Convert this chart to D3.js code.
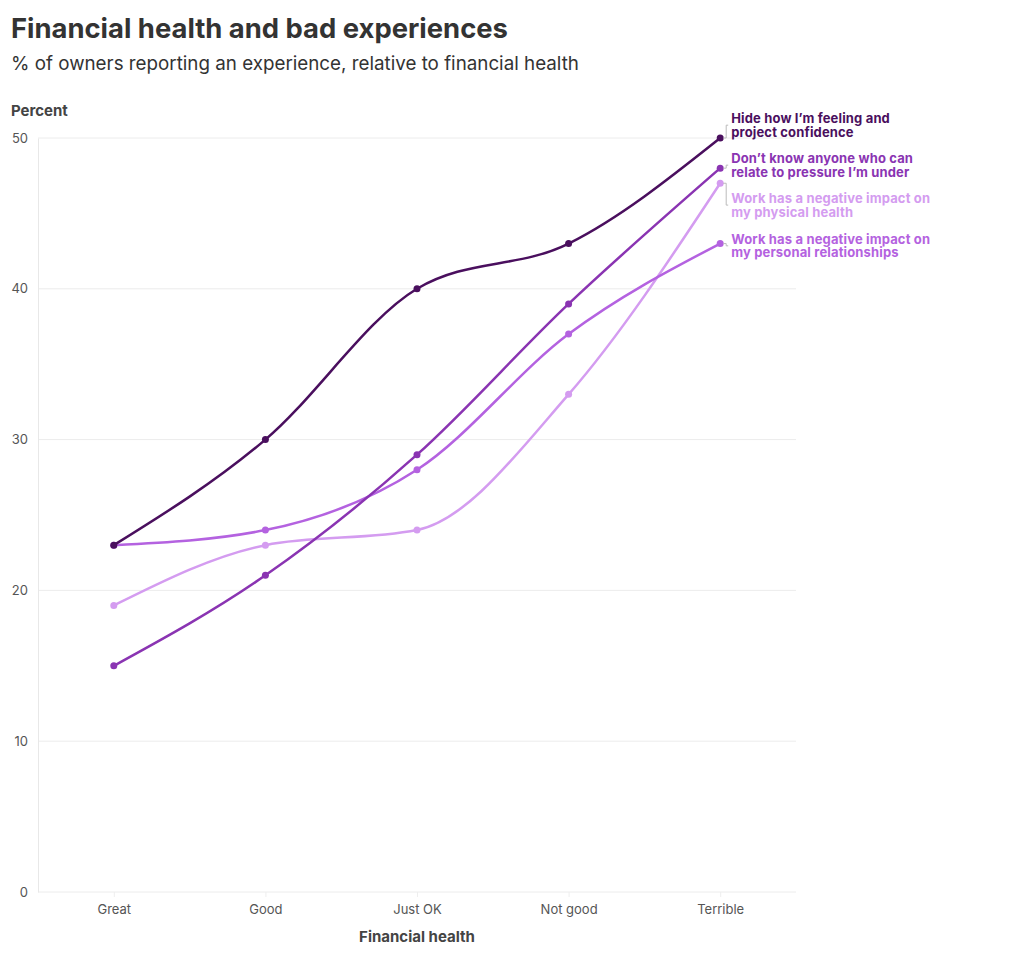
<!DOCTYPE html>
<html>
<head>
<meta charset="utf-8">
<script src="https://cdn.jsdelivr.net/npm/d3@7"></script>
<style>
  body { margin: 0; background: #fff; }
  text { font-family: Inter, "Noto Sans", sans-serif; }
</style>
</head>
<body>
<script>
// Data
const categories = ["Great", "Good", "Just OK", "Not good", "Terrible"];
const seriesNames = [
  ["Hide how I’m feeling and", "project confidence"],
  ["Don’t know anyone who can", "relate to pressure I’m under"],
  ["Work has a negative impact on", "my physical health"],
  ["Work has a negative impact on", "my personal relationships"]
];
const hideFeeling = [23, 30, 40, 43, 50];
const noOneRelates = [15, 21, 29, 39, 48];
const physicalHealth = [19, 23, 24, 33, 47];
const relationships = [23, 24, 28, 37, 43];
const yTicks = [0, 10, 20, 30, 40, 50];
const colors = ["#4a0f5e", "#8a34b2", "#d49cf0", "#b462e0"];
// label centre positions (y, in data units) for the end labels
const labelAt = [50.85, 48.2, 45.55, 42.85];

const width = 1020, height = 966;
const margin = {top: 138, right: 224, bottom: 74, left: 38};

const svg = d3.select("body").append("svg")
    .attr("width", width)
    .attr("height", height);

const x = d3.scalePoint()
    .domain(categories)
    .range([margin.left, width - margin.right])
    .padding(0.5);

const y = d3.scaleLinear()
    .domain([0, 50])
    .range([height - margin.bottom, margin.top]);

// Titles
svg.append("text")
    .attr("x", 11).attr("y", 38)
    .attr("font-size", 27.4).attr("font-weight", 700)
    .attr("fill", "#333")
    .text("Financial health and bad experiences");

svg.append("text")
    .attr("x", 11).attr("y", 70)
    .attr("font-size", 18.8)
    .attr("fill", "#333")
    .text("% of owners reporting an experience, relative to financial health");

svg.append("text")
    .attr("x", 11).attr("y", 116)
    .attr("font-size", 15).attr("font-weight", 700)
    .attr("fill", "#444")
    .text("Percent");

// Grid lines
svg.append("g")
    .selectAll("line")
    .data(yTicks)
    .join("line")
    .attr("x1", margin.left).attr("x2", width - margin.right)
    .attr("y1", d => y(d)).attr("y2", d => y(d))
    .attr("stroke", "#ececec");

// Y axis
const yAxis = svg.append("g")
    .attr("transform", `translate(${margin.left},0)`)
    .call(d3.axisLeft(y).tickValues(yTicks).tickSize(0).tickPadding(10));
yAxis.select(".domain").attr("stroke", "#e8e8e8");
yAxis.selectAll("text")
    .attr("font-size", 13).attr("fill", "#555")
    .style("font-family", "Inter, sans-serif");

// X axis
const xAxis = svg.append("g")
    .attr("transform", `translate(0,${height - margin.bottom})`)
    .call(d3.axisBottom(x).tickSize(5).tickPadding(8));
xAxis.select(".domain").remove();
xAxis.selectAll("line").attr("stroke", "#eee");
xAxis.selectAll("text")
    .attr("font-size", 13).attr("fill", "#555")
    .style("font-family", "Inter, sans-serif");

svg.append("text")
    .attr("x", x("Just OK")).attr("y", 942)
    .attr("text-anchor", "middle")
    .attr("font-size", 15).attr("font-weight", 700)
    .attr("fill", "#444")
    .text("Financial health");

// Lines
const allSeries = [hideFeeling, noOneRelates, physicalHealth, relationships];
const line = d3.line()
    .x((d, i) => x(categories[i]))
    .y(d => y(d))
    .curve(d3.curveMonotoneX);

// draw lightest ones first so darker series sit on top
const drawOrder = [2, 3, 1, 0];
drawOrder.forEach(k => {
  const vals = allSeries[k];
  svg.append("path")
      .datum(vals)
      .attr("fill", "none")
      .attr("stroke", colors[k])
      .attr("stroke-width", 2.5)
      .attr("d", line);
  svg.append("g")
      .selectAll("circle")
      .data(vals)
      .join("circle")
      .attr("cx", (d, i) => x(categories[i]))
      .attr("cy", d => y(d))
      .attr("r", 3.5)
      .attr("fill", colors[k]);
});

// End labels with connector brackets
const lastX = x(categories[categories.length - 1]);
allSeries.forEach((vals, k) => {
  const endY = y(vals[vals.length - 1]);
  const ly = y(labelAt[k]);
  if (Math.abs(ly - endY) > 2) {
    svg.append("path")
        .attr("d", `M${lastX + 3},${endY} H${lastX + 6} V${ly} H${lastX + 8}`)
        .attr("fill", "none")
        .attr("stroke", "#bbb")
        .attr("stroke-width", 1);
  } else {
    svg.append("line")
        .attr("x1", lastX + 3).attr("x2", lastX + 8)
        .attr("y1", endY).attr("y2", endY)
        .attr("stroke", "#bbb");
  }
  const t = svg.append("text")
      .attr("x", lastX + 11)
      .attr("y", ly - 2)
      .attr("font-size", 13).attr("font-weight", 700)
      .attr("letter-spacing", 0.15)
      .attr("fill", colors[k]);
  seriesNames[k].forEach((s, j) => {
    t.append("tspan")
        .attr("x", lastX + 11)
        .attr("dy", j === 0 ? 0 : 13.4)
        .text(s);
  });
});
</script>
</body>
</html>
